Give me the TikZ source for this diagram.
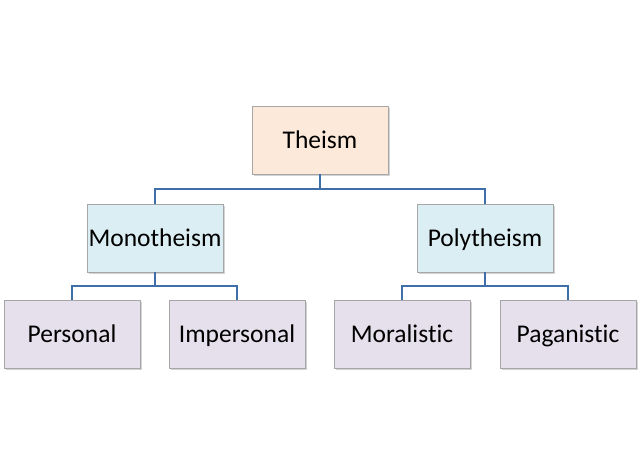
\documentclass[tikz,border=0pt]{standalone}
\usepackage{fontspec}
\setmainfont{Carlito}[Ligatures={NoCommon}]
\usetikzlibrary{shadows}
\definecolor{peach}{HTML}{FDE9D9}
\definecolor{lblue}{HTML}{DBEEF4}
\definecolor{lav}{HTML}{E5E0EC}
\definecolor{bord}{HTML}{A6A6A6}
\definecolor{conn}{HTML}{3F6FA8}
\begin{document}
\begin{tikzpicture}[x=1pt,y=-1pt,
  box/.style={draw=bord, line width=0.8pt, minimum width=136pt, minimum height=68pt,
    inner sep=0pt, text height=21pt, text depth=5pt, font=\fontsize{25.5}{30}\selectfont,
    drop shadow={shadow xshift=1.5pt, shadow yshift=-1.5pt, opacity=0.35, fill=gray}},
  link/.style={draw=conn, line width=1.2pt}]
\useasboundingbox (0,0) rectangle (640,475);
\node[box, fill=peach] (theism) at (320,140) {Theism};
\node[box, fill=lblue] (mono) at (155,238) {Monotheism};
\node[box, fill=lblue] (poly) at (485,238) {Polytheism};
\node[box, fill=lav] (pers) at (72,334) {Personal};
\node[box, fill=lav] (imp) at (237,334) {Impersonal};
\node[box, fill=lav] (mor) at (402,334) {Moralistic};
\node[box, fill=lav] (pag) at (568,334) {Paganistic};
\coordinate (j1) at (320,189);
\coordinate (j2) at (155,286);
\coordinate (j3) at (485,286);
\draw[link] (theism.south) -- (j1);
\draw[link] (j1) -| (mono.north);
\draw[link] (j1) -| (poly.north);
\draw[link] (mono.south) -- (j2);
\draw[link] (j2) -| (pers.north);
\draw[link] (j2) -| (imp.north);
\draw[link] (poly.south) -- (j3);
\draw[link] (j3) -| (mor.north);
\draw[link] (j3) -| (pag.north);
\end{tikzpicture}
\end{document}
